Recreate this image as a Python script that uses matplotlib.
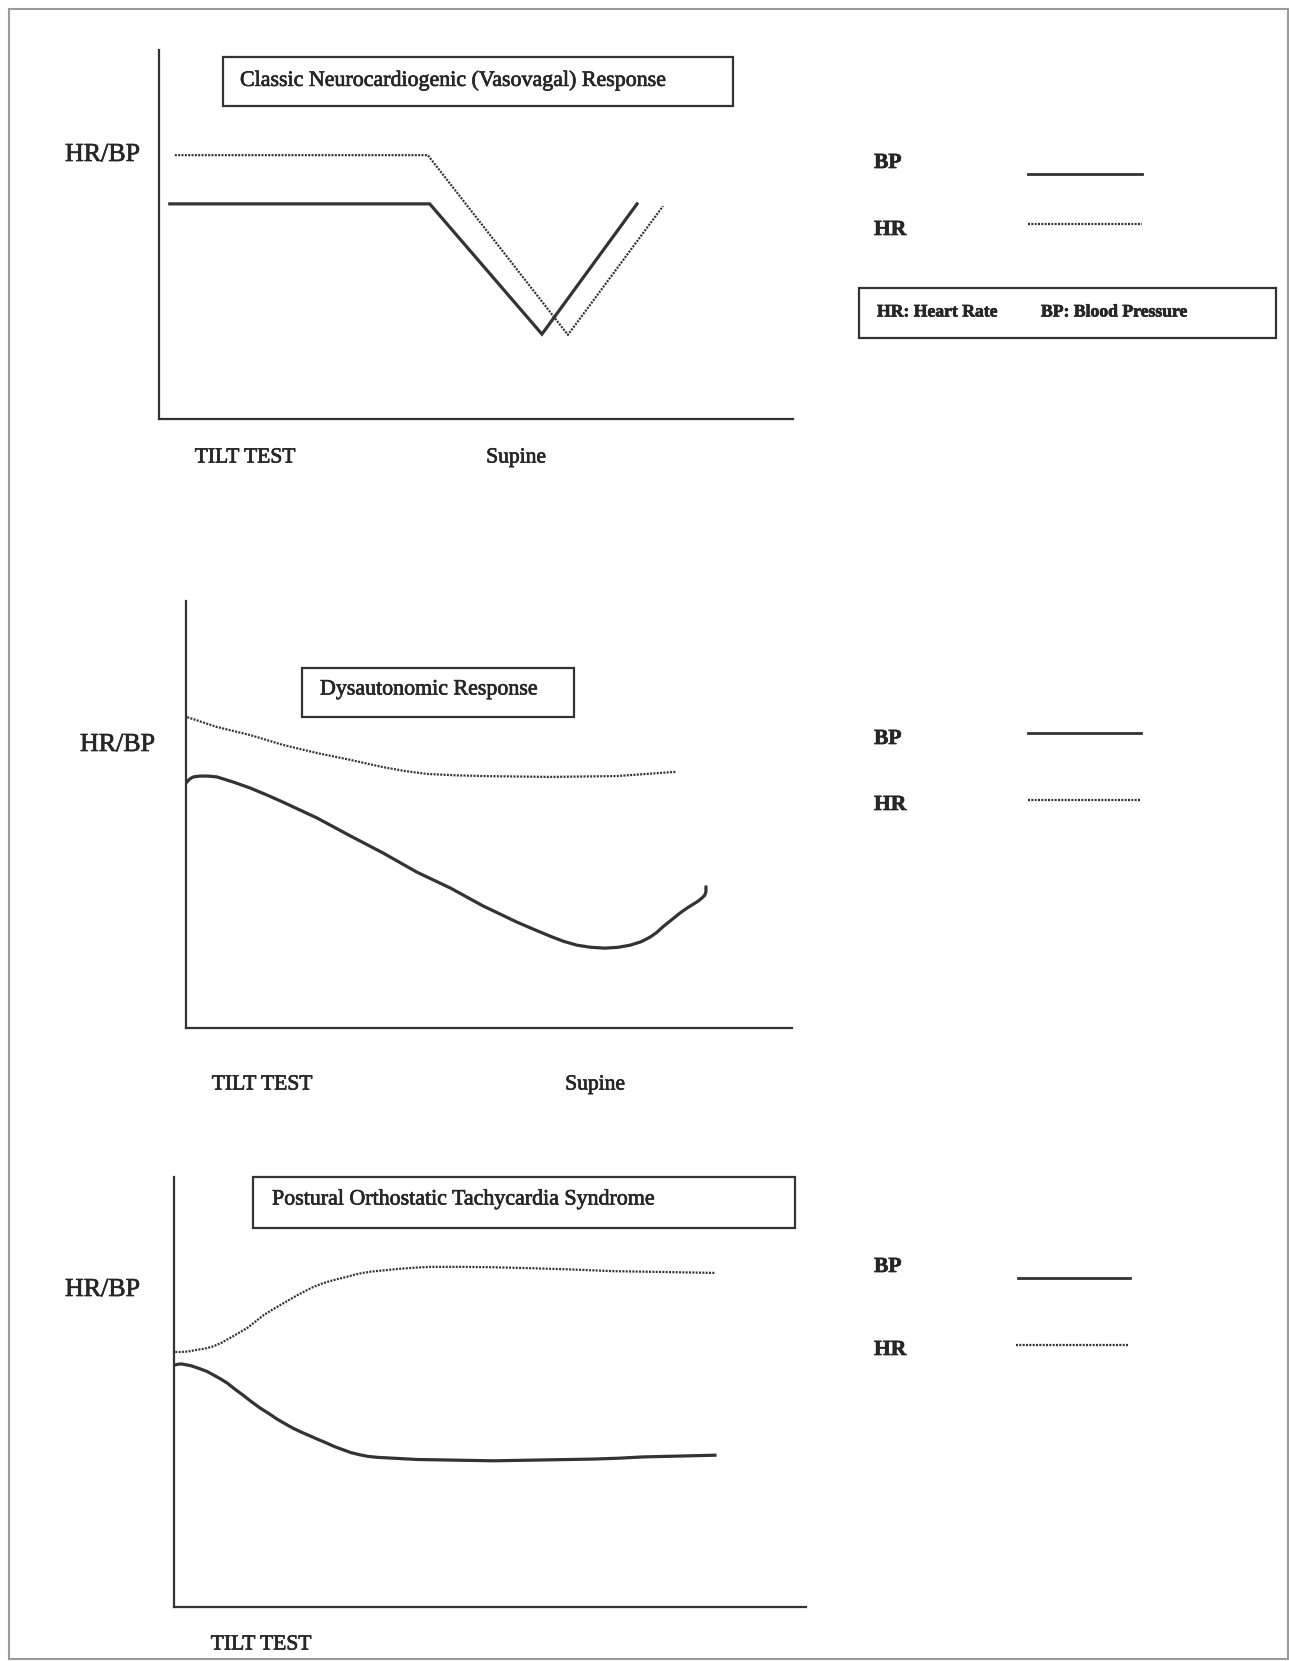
import matplotlib
matplotlib.use("Agg")
import matplotlib.pyplot as plt
import matplotlib.patheffects as pe
from matplotlib.patches import Rectangle
from matplotlib.lines import Line2D

plt.rcParams['font.family'] = ['Liberation Serif', 'DejaVu Serif']

# ---------------- data (time %, level %) ----------------
# Panel 1: Classic Neurocardiogenic (Vasovagal) Response
p1_hr_x = [2.5, 42.4, 64.5, 79.5]
p1_hr_y = [71.5, 71.5, 22.8, 57.7]
p1_bp_x = [1.7, 42.7, 60.4, 75.4]
p1_bp_y = [58.3, 58.3, 23.0, 58.3]

# Panel 2: Dysautonomic Response
p2_hr_x = [0.2, 5.1, 10.6, 16.0, 21.6, 27.1, 32.5, 36.0, 39.8, 44.0, 49.0, 60.1, 71.1, 80.9]
p2_hr_y = [72.8, 70.5, 68.6, 66.3, 64.4, 62.8, 61.1, 60.2, 59.5, 59.2, 59.0, 58.8, 59.0, 60.0]
p2_bp_x = [0.0, 0.6, 1.2, 2.3, 3.6, 5.1, 7.8, 10.6, 13.3, 16.0, 21.6, 27.1, 32.5, 38.1,
           43.6, 49.0, 54.6, 57.4, 60.1, 62.3, 64.5, 66.8, 69.1, 71.3, 73.3, 75.1,
           76.6, 77.7, 78.7, 80.1, 81.5, 82.7, 83.7, 84.5, 85.1, 85.6, 85.8, 85.8]
p2_bp_y = [57.4, 58.3, 58.8, 59.0, 59.0, 58.8, 57.6, 56.2, 54.6, 52.9, 49.2, 45.0, 41.0, 36.5,
           32.8, 28.6, 24.8, 23.1, 21.5, 20.3, 19.4, 18.9, 18.7, 18.9, 19.4, 20.2,
           21.3, 22.4, 23.7, 25.3, 26.9, 28.1, 29.0, 29.7, 30.4, 31.1, 31.9, 33.0]

# Panel 3: Postural Orthostatic Tachycardia Syndrome
p3_hr_x = [0.2, 0.9, 2.2, 3.6, 4.9, 6.2, 7.6, 8.9, 10.2, 11.6, 12.9, 14.1, 15.5, 16.8,
           18.2, 19.5, 20.8, 22.0, 23.4, 24.7, 26.0, 27.4, 28.6, 29.9, 31.2, 32.6,
           35.3, 37.9, 40.5, 45.7, 51.0, 56.3, 62.9, 69.5, 77.5, 85.6]
p3_hr_y = [59.3, 59.3, 59.4, 59.8, 60.1, 60.6, 61.5, 62.6, 63.7, 64.9, 66.4, 67.8, 69.1, 70.2,
           71.4, 72.5, 73.5, 74.4, 75.2, 75.8, 76.3, 76.8, 77.3, 77.7, 78.0, 78.2,
           78.6, 78.9, 79.1, 79.1, 79.0, 78.8, 78.5, 78.1, 77.9, 77.7]
p3_bp_x = [0.2, 0.8, 1.3, 2.7, 4.1, 5.2, 6.2, 7.3, 8.4, 9.6, 10.9, 12.2, 13.6, 15.0, 16.3,
           17.6, 18.8, 20.1, 21.5, 22.9, 24.2, 25.4, 26.7, 28.0, 29.4, 30.8, 32.2,
           34.7, 38.6, 42.6, 46.5, 50.5, 54.5, 58.4, 62.4, 66.3, 70.3, 74.2, 79.9, 85.6]
p3_bp_y = [56.3, 56.5, 56.5, 56.1, 55.4, 54.8, 54.0, 53.1, 52.1, 50.7, 49.3, 47.8, 46.3, 45.0, 43.7,
           42.6, 41.6, 40.7, 39.8, 38.9, 38.1, 37.3, 36.6, 35.9, 35.4, 35.0, 34.8,
           34.6, 34.3, 34.2, 34.1, 34.0, 34.1, 34.2, 34.3, 34.4, 34.6, 34.9, 35.1, 35.3]

titles = ["Classic Neurocardiogenic (Vasovagal) Response",
          "Dysautonomic Response",
          "Postural Orthostatic Tachycardia Syndrome"]
y_label = "HR/BP"
x_labels = [["TILT TEST", "Supine"], ["TILT TEST", "Supine"], ["TILT TEST"]]
legend_labels = ["BP", "HR"]
note_labels = ["HR: Heart Rate", "BP: Blood Pressure"]

# ---------------- layout helpers (pixel -> figure fraction) ----------------
W, H = 1289, 1661
fig = plt.figure(figsize=(W / 100, H / 100), dpi=100)
fig.patch.set_facecolor('white')

def fx(x):
    return x / W

def fy(y):
    return 1 - y / H

INK = '#262626'
LINE = '#333333'
SOLID_LW = 2.3
DOT_LW = 1.6
DOT_STYLE = (0, (0.9, 0.6))
TXT_FX = [pe.withStroke(linewidth=0.5, foreground=INK)]

def txt(x, y, s, **kw):
    kw.setdefault('color', INK)
    t = fig.text(fx(x), fy(y), s, **kw)
    t.set_path_effects(TXT_FX)
    return t

def make_axes(x0, x1, top, bottom):
    ax = fig.add_axes([fx(x0), fy(bottom), (x1 - x0) / W, (bottom - top) / H])
    ax.set_xlim(0, 100)
    ax.set_ylim(0, 100)
    for s in ['top', 'right']:
        ax.spines[s].set_visible(False)
    for s in ['left', 'bottom']:
        ax.spines[s].set_color(LINE)
        ax.spines[s].set_linewidth(1.6)
    ax.set_xticks([])
    ax.set_yticks([])
    ax.patch.set_alpha(0)
    return ax

def title_box(x0, y0, x1, y1, text, tx, ty):
    fig.add_artist(Rectangle((fx(x0), fy(y1)), (x1 - x0) / W, (y1 - y0) / H,
                             transform=fig.transFigure, fill=False,
                             edgecolor=LINE, linewidth=1.6))
    txt(tx, ty, text, ha='left', va='center', fontsize=15.8)

def legend(x_text, y_bp_text, y_hr_text, lx0, lx1, y_bp_line, y_hr_line, lx0b=None, lx1b=None):
    txt(x_text, y_bp_text, legend_labels[0], ha='left', va='center',
        fontsize=15.5, fontweight='bold')
    txt(x_text, y_hr_text, legend_labels[1], ha='left', va='center',
        fontsize=15.5, fontweight='bold')
    fig.add_artist(Line2D([fx(lx0), fx(lx1)], [fy(y_bp_line)] * 2, transform=fig.transFigure,
                          color=LINE, linewidth=2.0))
    if lx0b is None:
        lx0b, lx1b = lx0, lx1
    fig.add_artist(Line2D([fx(lx0b), fx(lx1b)], [fy(y_hr_line)] * 2, transform=fig.transFigure,
                          color=LINE, linewidth=DOT_LW, linestyle=DOT_STYLE))

# ---------------- outer frame ----------------
fig.add_artist(Rectangle((fx(9), fy(1659)), (1288 - 9) / W, (1659 - 9) / H,
                         transform=fig.transFigure, fill=False,
                         edgecolor='#9a9a9a', linewidth=1.5))

# ---------------- panel 1 ----------------
ax1 = make_axes(159, 793, 50, 419)
ax1.plot(p1_bp_x, p1_bp_y, color=LINE, linewidth=SOLID_LW, solid_joinstyle='miter')
ax1.plot(p1_hr_x, p1_hr_y, color=LINE, linewidth=DOT_LW, linestyle=DOT_STYLE)
title_box(223, 57, 733, 106, titles[0], 240, 81)
txt(65, 155, y_label, ha='left', va='center', fontsize=18.7)
txt(245, 458, x_labels[0][0], ha='center', va='center', fontsize=15.5)
txt(516, 458, x_labels[0][1], ha='center', va='center', fontsize=15.5)
legend(874, 163, 230, 1028, 1142, 174, 224)
# note box
fig.add_artist(Rectangle((fx(859), fy(338)), (1276 - 859) / W, (338 - 288) / H,
                         transform=fig.transFigure, fill=False,
                         edgecolor=LINE, linewidth=1.6))
txt(877, 312, note_labels[0], ha='left', va='center', fontsize=12.7, fontweight='bold')
txt(1041, 312, note_labels[1], ha='left', va='center', fontsize=12.7, fontweight='bold')

# ---------------- panel 2 ----------------
ax2 = make_axes(186, 792, 601, 1028)
ax2.plot(p2_bp_x, p2_bp_y, color=LINE, linewidth=SOLID_LW)
ax2.plot(p2_hr_x, p2_hr_y, color=LINE, linewidth=DOT_LW, linestyle=DOT_STYLE)
title_box(302, 668, 574, 717, titles[1], 320, 690)
txt(80, 745, y_label, ha='left', va='center', fontsize=18.7)
txt(262, 1085, x_labels[1][0], ha='center', va='center', fontsize=15.5)
txt(595, 1085, x_labels[1][1], ha='center', va='center', fontsize=15.5)
legend(874, 739, 805, 1028, 1141, 733, 800)

# ---------------- panel 3 ----------------
ax3 = make_axes(174, 806, 1177, 1607)
ax3.plot(p3_bp_x, p3_bp_y, color=LINE, linewidth=SOLID_LW)
ax3.plot(p3_hr_x, p3_hr_y, color=LINE, linewidth=DOT_LW, linestyle=DOT_STYLE)
title_box(253, 1177, 795, 1228, titles[2], 272, 1200)
txt(65, 1290, y_label, ha='left', va='center', fontsize=18.7)
txt(261, 1645, x_labels[2][0], ha='center', va='center', fontsize=15.5)
legend(874, 1267, 1350, 1018, 1130, 1278, 1345, 1016, 1128)

fig.savefig('out.png', dpi=100, facecolor='white')
